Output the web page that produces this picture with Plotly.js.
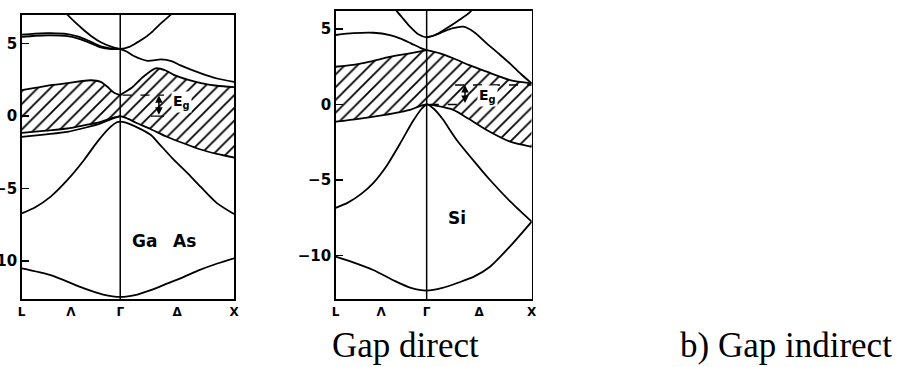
<!DOCTYPE html>
<html>
<head>
<meta charset="utf-8">
<script src="https://cdn.plot.ly/plotly-3.0.1.min.js"></script>
<style>
  html, body { margin: 0; padding: 0; background: #fff; }
  #chart { width: 900px; height: 367px; }
</style>
</head>
<body>
<div id="chart"></div>
<script>
// Band structures of GaAs and Si along L - Γ - X.
// k in units of 2π/a (L = -√3/2, Γ = 0, X = 1), energies in eV.

const kTicks = [-0.866, -0.433, 0, 0.5, 1];
const kLabels = ['L', 'Λ', 'Γ', 'Δ', 'X'];
const eTicks = [-10, -5, 0, 5];

// ---------- GaAs ----------
const gaasArcK = [-0.55, -0.464, -0.4, -0.318, -0.25, -0.171, -0.08, 0, 0.08, 0.12, 0.195, 0.27, 0.341, 0.444, 0.52];
const gaasArcE = [7.7, 7.0, 6.5, 5.93, 5.5, 5.1, 4.8, 4.65, 4.78, 4.95, 5.3, 5.75, 6.28, 7.0, 7.6];

const gaasUpLK = [-0.866, -0.75, -0.611, -0.464, -0.376, -0.288, -0.171, -0.1, -0.054, 0];
const gaasUpLE1 = [5.62, 5.7, 5.72, 5.66, 5.5, 5.24, 4.82, 4.7, 4.66, 4.63];
const gaasUpLE2 = [5.47, 5.55, 5.58, 5.52, 5.37, 5.12, 4.74, 4.65, 4.63, 4.63];
const gaasUpRK = [0, 0.06, 0.12, 0.24, 0.36, 0.45, 0.53, 0.71, 0.85, 1];
const gaasUpRE = [4.63, 4.45, 4.15, 3.82, 3.92, 3.8, 3.5, 2.95, 2.6, 2.37];

const gaasCbLK = [-0.866, -0.75, -0.611, -0.45, -0.259, -0.171, -0.113, -0.054, 0];
const gaasCbLE = [1.8, 1.95, 2.14, 2.3, 2.48, 2.37, 2.03, 1.61, 1.45];
const gaasCbRK = [0, 0.05, 0.107, 0.2, 0.31, 0.4, 0.47, 0.6, 0.71, 0.85, 1];
const gaasCbRE = [1.45, 1.7, 2.0, 2.7, 3.3, 3.15, 2.85, 2.5, 2.28, 2.1, 2.0];

const gaasVbLK = [-0.866, -0.65, -0.464, -0.3, -0.171, -0.08, 0];
const gaasVbLE1 = [-1.15, -1.0, -0.85, -0.6, -0.39, -0.15, 0];
const gaasVbLE2 = [-1.42, -1.25, -1.08, -0.78, -0.5, -0.2, 0];
const gaasVbRK = [0, 0.05, 0.14, 0.27, 0.41, 0.55, 0.7, 0.85, 1];
const gaasVbRE = [0, -0.12, -0.45, -0.9, -1.42, -1.85, -2.28, -2.6, -2.85];

const gaasSoK = [-0.866, -0.75, -0.611, -0.464, -0.318, -0.2, -0.083, -0.03, 0, 0.05, 0.13, 0.27, 0.33, 0.47, 0.6, 0.71, 0.85, 1];
const gaasSoE = [-6.7, -6.3, -5.55, -4.4, -3.02, -1.75, -0.72, -0.42, -0.38, -0.45, -0.7, -1.3, -1.8, -3.0, -4.0, -4.9, -6.0, -6.75];

const gaasLowK = [-0.866, -0.611, -0.318, -0.15, 0, 0.15, 0.268, 0.41, 0.56, 0.7, 0.854, 1];
const gaasLowE = [-10.5, -10.97, -11.88, -12.3, -12.46, -12.3, -12.0, -11.55, -11.08, -10.6, -10.16, -9.8];

// ---------- Si ----------
const siArcK = [-0.34, -0.286, -0.22, -0.159, -0.08, 0, 0.08, 0.19, 0.3, 0.41, 0.47];
const siArcE = [6.8, 6.2, 5.65, 5.15, 4.65, 4.45, 4.6, 5.05, 5.55, 6.1, 6.6];

const siUpLK = [-0.866, -0.7, -0.509, -0.35, -0.254, -0.15, -0.06, 0];
const siUpLE = [4.6, 4.72, 4.75, 4.6, 4.38, 4.05, 3.75, 3.6];
const siUpRK = [0, 0.08, 0.158, 0.25, 0.349, 0.45, 0.571, 0.68, 0.794, 0.9, 1];
const siUpRE = [4.45, 4.6, 4.82, 5.05, 5.15, 4.8, 4.05, 3.4, 2.71, 2.0, 1.4];

const siCbLK = [-0.866, -0.7, -0.55, -0.413, -0.25, -0.159, 0];
const siCbLE = [2.5, 2.62, 2.82, 3.06, 3.28, 3.39, 3.6];
const siCbRK = [0, 0.127, 0.253, 0.4, 0.571, 0.794, 1];
const siCbRE = [3.6, 3.39, 3.06, 2.62, 2.17, 1.62, 1.4];

const siVbLK = [-0.866, -0.65, -0.413, -0.25, -0.159, -0.07, 0];
const siVbLE = [-1.14, -0.95, -0.7, -0.5, -0.36, -0.12, 0];
const siVbRK = [0, 0.1, 0.253, 0.4, 0.571, 0.794, 1];
const siVbRE = [0, -0.1, -0.36, -0.95, -1.69, -2.46, -2.8];

const siArchK = [-0.866, -0.75, -0.62, -0.509, -0.38, -0.254, -0.13, -0.05, 0, 0.07, 0.15, 0.286, 0.45, 0.603, 0.8, 1];
const siArchE = [-6.85, -6.5, -5.9, -5.2, -4.05, -2.6, -1.1, -0.3, 0, -0.3, -0.95, -2.35, -3.75, -5.0, -6.45, -7.76];

const siLowK = [-0.866, -0.7, -0.509, -0.3, -0.15, 0, 0.15, 0.3, 0.45, 0.603, 0.8, 1];
const siLowE = [-10.08, -10.45, -10.96, -11.7, -12.15, -12.33, -12.15, -11.8, -11.4, -10.74, -9.35, -7.76];

// Band gaps marked with a double arrow
const gaasGap = gaasCbRE[0];
const siGap = 1.29;

// ---------- drawing helpers ----------
const ink = '#000';
function band(k, e, xa, ya) {
  return { x: k, y: e, xaxis: xa, yaxis: ya, mode: 'lines', hoverinfo: 'skip',
           line: { color: ink, width: 1.8, shape: 'spline', smoothing: 0.7 }, showlegend: false };
}
function hatch(upK, upE, loK, loE, xa, ya) {
  const px = upK.concat(loK.slice().reverse());
  const py = upE.concat(loE.slice().reverse());
  return { x: px, y: py, xaxis: xa, yaxis: ya, mode: 'lines', fill: 'toself', hoverinfo: 'skip',
           line: { width: 0, color: 'rgba(0,0,0,0)' }, fillcolor: 'white', showlegend: false,
           fillpattern: { shape: '/', fgcolor: ink, bgcolor: 'white', size: 9, solidity: 0.2 } };
}
function join(a, b) { return a.concat(b.slice(1)); }

const traces = [
  hatch(join(gaasCbLK, gaasCbRK), join(gaasCbLE, gaasCbRE), join(gaasVbLK, gaasVbRK), join(gaasVbLE1, gaasVbRE), 'x', 'y'),
  hatch(join(siCbLK, siCbRK), join(siCbLE, siCbRE), join(siVbLK, siVbRK), join(siVbLE, siVbRE), 'x2', 'y2'),

  band(gaasArcK, gaasArcE, 'x', 'y'),
  band(gaasUpLK, gaasUpLE1, 'x', 'y'),
  band(gaasUpLK, gaasUpLE2, 'x', 'y'),
  band(gaasUpRK, gaasUpRE, 'x', 'y'),
  band(gaasCbLK, gaasCbLE, 'x', 'y'),
  band(gaasCbRK, gaasCbRE, 'x', 'y'),
  band(gaasVbLK, gaasVbLE1, 'x', 'y'),
  band(gaasVbLK, gaasVbLE2, 'x', 'y'),
  band(gaasVbRK, gaasVbRE, 'x', 'y'),
  band(gaasSoK, gaasSoE, 'x', 'y'),
  band(gaasLowK, gaasLowE, 'x', 'y'),

  band(siArcK, siArcE, 'x2', 'y2'),
  band(siUpLK, siUpLE, 'x2', 'y2'),
  band(siUpRK, siUpRE, 'x2', 'y2'),
  band(siCbLK, siCbLE, 'x2', 'y2'),
  band(siCbRK, siCbRE, 'x2', 'y2'),
  band(siVbLK, siVbLE, 'x2', 'y2'),
  band(siVbRK, siVbRE, 'x2', 'y2'),
  band(siArchK, siArchE, 'x2', 'y2'),
  band(siLowK, siLowE, 'x2', 'y2')
];

const W = 900, H = 367;
const tickFont = { family: 'DejaVu Sans', size: 15, weight: 'bold', color: ink };
const kFont = { family: 'DejaVu Sans', size: 12, weight: 'bold', color: ink };

function kAxis(domain, anchor) {
  return { domain: domain, anchor: anchor, range: [-0.866, 1], showgrid: false, zeroline: false,
           showline: true, mirror: true, linecolor: ink, linewidth: 1.6, ticks: '',
           tickvals: kTicks, ticktext: kLabels, tickfont: kFont, ticklabelstandoff: 1, fixedrange: true };
}
function eAxis(domain, range, anchor) {
  return { domain: domain, anchor: anchor, range: range, showgrid: false, zeroline: false,
           showline: true, mirror: true, linecolor: ink, linewidth: 1.6, ticks: 'inside',
           ticklen: 7, tickwidth: 1.5, tickcolor: ink, tickvals: eTicks, tickfont: tickFont,
           ticklabelstandoff: 0, fixedrange: true };
}

const gammaLine = (xa, ya) => ({ type: 'line', xref: xa, yref: ya + ' domain', x0: 0, x1: 0, y0: 0, y1: 1,
                                 line: { color: ink, width: 1.5 } });
const level = (xa, ya, k0, k1, e, dash) => ({ type: 'line', xref: xa, yref: ya, x0: k0, x1: k1, y0: e, y1: e,
                                          line: { color: ink, width: 1.3, dash: dash } });
const egFont = { family: 'DejaVu Sans', size: 14, weight: 'bold', color: ink };
const nameFont = { family: 'DejaVu Sans', size: 17, weight: 'bold', color: ink };
const captionFont = { family: 'Liberation Serif', size: 35, color: ink };

const layout = {
  width: W, height: H, margin: { l: 0, r: 0, t: 0, b: 0 },
  paper_bgcolor: 'white', plot_bgcolor: 'rgba(0,0,0,0)',
  xaxis: kAxis([21.7 / W, 234 / W], 'y'),
  yaxis: eAxis([1 - 299 / H, 1 - 15 / H], [-12.61, 6.98], 'x'),
  xaxis2: kAxis([335.7 / W, 531.7 / W], 'y2'),
  yaxis2: eAxis([1 - 299 / H, 1 - 10.7 / H], [-12.88, 6.21], 'x2'),
  shapes: [
    gammaLine('x', 'y'), gammaLine('x2', 'y2'),
    level('x', 'y', 0.02, 0.385, gaasGap, 'dash'),
    level('x', 'y', 0.27, 0.385, 0, 'solid'),
    level('x2', 'y2', 0.27, 1, siGap, 'dash'),
    level('x2', 'y2', 0.03, 0.36, 0, 'dash')
  ],
  annotations: [
    { xref: 'x', yref: 'y', x: 0.34, y: gaasGap, ax: 0.34, ay: 0, axref: 'x', ayref: 'y', text: '',
      showarrow: true, arrowside: 'end+start', arrowhead: 2, arrowsize: 1, arrowwidth: 1.5, arrowcolor: ink },
    { xref: 'x', yref: 'y', x: 0.45, y: 0.95, xanchor: 'left', yanchor: 'middle', text: 'E<sub>g</sub>',
      showarrow: false, bgcolor: 'white', borderpad: 1, font: egFont },
    { xref: 'x2', yref: 'y2', x: 0.365, y: siGap, ax: 0.365, ay: 0, axref: 'x2', ayref: 'y2', text: '',
      showarrow: true, arrowside: 'end+start', arrowhead: 2, arrowsize: 1, arrowwidth: 1.5, arrowcolor: ink },
    { xref: 'x2', yref: 'y2', x: 0.48, y: 0.55, xanchor: 'left', yanchor: 'middle', text: 'E<sub>g</sub>',
      showarrow: false, bgcolor: 'white', borderpad: 1, font: egFont },
    { xref: 'x', yref: 'y', x: 0.209, y: -8.59, text: 'Ga', showarrow: false, font: nameFont },
    { xref: 'x', yref: 'y', x: 0.569, y: -8.59, text: 'As', showarrow: false, font: nameFont },
    { xref: 'x2', yref: 'y2', x: 0.293, y: -7.52, text: 'Si', showarrow: false, font: nameFont },
    { xref: 'paper', yref: 'paper', x: 405.5 / W, y: 1 - 345 / H, xanchor: 'center', yanchor: 'middle',
      text: 'Gap direct', showarrow: false, font: captionFont },
    { xref: 'paper', yref: 'paper', x: 894 / W, y: 1 - 345 / H, xanchor: 'right', yanchor: 'middle',
      text: 'b) Gap indirect', showarrow: false, font: captionFont }
  ]
};

Plotly.newPlot('chart', traces, layout, { staticPlot: true, displayModeBar: false });
</script>
</body>
</html>
